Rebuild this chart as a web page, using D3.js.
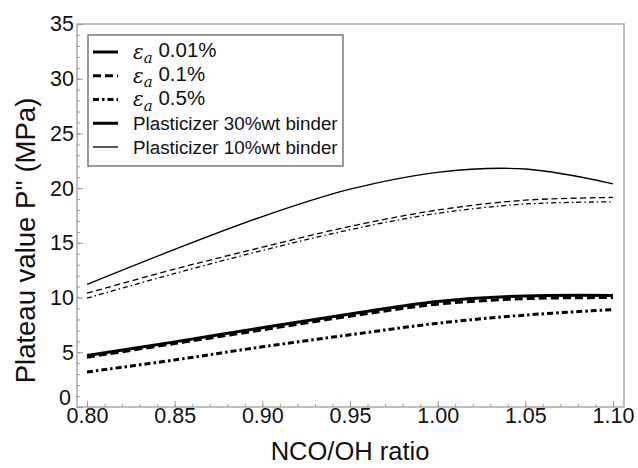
<!DOCTYPE html>
<html>
<head>
<meta charset="utf-8">
<script src="https://cdn.jsdelivr.net/npm/d3@7"></script>
<style>
  html, body { margin: 0; padding: 0; background: #fff; }
  svg { display: block; font-family: "Liberation Sans", Arial, Helvetica, sans-serif; }
</style>
</head>
<body>
<svg id="chart" width="638" height="468"></svg>
<script>
// NCO/OH ratio sampled every 0.05
const ratio = [0.80, 0.85, 0.90, 0.95, 1.00, 1.05, 1.10];

// Plateau value P'' (MPa), binder with 30%wt plasticizer
const p30_eps001 = [4.70, 5.95, 7.25, 8.50, 9.65, 10.15, 10.20];
const p30_eps01  = [4.55, 5.80, 7.05, 8.30, 9.40, 9.90, 10.00];
const p30_eps05  = [3.20, 4.30, 5.50, 6.60, 7.65, 8.40, 8.90];

// Plateau value P'' (MPa), binder with 10%wt plasticizer
const p10_eps001 = [11.2, 14.4, 17.4, 19.9, 21.45, 21.75, 20.4];
const p10_eps01  = [10.4, 12.6, 14.6, 16.5, 18.0, 18.9, 19.15];
const p10_eps05  = [9.95, 12.2, 14.3, 16.2, 17.7, 18.55, 18.75];

const xTicks = [0.80, 0.85, 0.90, 0.95, 1.00, 1.05, 1.10];
const yTicks = [0, 5, 10, 15, 20, 25, 30, 35];

const legendLabels = ["0.01%", "0.1%", "0.5%", "Plasticizer 30%wt binder", "Plasticizer 10%wt binder"];

const svg = d3.select("#chart");
const frame = { left: 77, right: 624, top: 24, bottom: 407 };

const x = d3.scaleLinear().domain([0.80, 1.10]).range([87, 613]);
const y = d3.scaleLinear().domain([0, 35]).range([frame.bottom, frame.top]);

const frameColor = "#ababab";
const tickColor = "#9a9a9a";
const fontStack = '"Liberation Sans", Arial, sans-serif';

// dash styles per strain amplitude, width per binder
const thick = 3.0, thin = 1.3;
const dashThick = { solid: null, dashed: "8,4", dashdot: "6,3,2.5,3" };
const dashThin  = { solid: null, dashed: "6,3.5", dashdot: "5,3,1.5,3" };

const series = [
  { values: p10_eps001, w: thin,  dash: dashThin.solid },
  { values: p10_eps01,  w: thin,  dash: dashThin.dashed },
  { values: p10_eps05,  w: thin,  dash: dashThin.dashdot },
  { values: p30_eps001, w: thick, dash: dashThick.solid },
  { values: p30_eps01,  w: thick, dash: dashThick.dashed },
  { values: p30_eps05,  w: thick, dash: dashThick.dashdot }
];

// frame
svg.append("rect")
  .attr("x", frame.left).attr("y", frame.top)
  .attr("width", frame.right - frame.left)
  .attr("height", frame.bottom - frame.top)
  .attr("fill", "none").attr("stroke", frameColor).attr("stroke-width", 1.5);

// bottom axis: minor ticks, then major ticks with labels
const xMinor = d3.range(0.80, 1.1001, 0.01);
svg.append("g").attr("transform", `translate(0,${frame.bottom})`)
  .call(d3.axisBottom(x).tickValues(xMinor).tickSize(-3).tickFormat(""))
  .call(g => g.select(".domain").remove())
  .call(g => g.selectAll("line").attr("stroke", tickColor));

svg.append("g").attr("transform", `translate(0,${frame.bottom})`)
  .call(d3.axisBottom(x).tickValues(xTicks).tickSize(-6).tickPadding(1).tickFormat(d3.format(".2f")))
  .call(g => g.select(".domain").remove())
  .call(g => g.selectAll("line").attr("stroke", tickColor))
  .call(g => g.selectAll("text").attr("fill", "#111").style("font-size", "21.5px")
    .style("font-family", fontStack));

// left axis
const yMinor = d3.range(0, 35.001, 1);
svg.append("g").attr("transform", `translate(${frame.left},0)`)
  .call(d3.axisLeft(y).tickValues(yMinor).tickSize(-3).tickFormat(""))
  .call(g => g.select(".domain").remove())
  .call(g => g.selectAll("line").attr("stroke", tickColor));

svg.append("g").attr("transform", `translate(${frame.left},0)`)
  .call(d3.axisLeft(y).tickValues(yTicks).tickSize(-6).tickPadding(3))
  .call(g => g.select(".domain").remove())
  .call(g => g.selectAll("line").attr("stroke", tickColor))
  .call(g => g.selectAll("text").attr("fill", "#111").style("font-size", "21.5px")
    .style("font-family", fontStack))
  .call(g => g.selectAll(".tick").filter(d => d === 0).select("text").attr("y", -9).attr("x", -6));

// curves
const line = d3.line()
  .x((d, i) => x(ratio[i]))
  .y(d => y(d))
  .curve(d3.curveCatmullRom.alpha(0.5));

svg.append("g").selectAll("path")
  .data(series)
  .join("path")
  .attr("d", s => line(s.values))
  .attr("fill", "none")
  .attr("stroke", "#000")
  .attr("stroke-width", s => s.w)
  .attr("stroke-dasharray", s => s.dash)
  .attr("stroke-linecap", "butt");

// legend
const lg = svg.append("g");
const lgBox = { x: 88, y: 35, w: 255, h: 131 };
lg.append("rect")
  .attr("x", lgBox.x).attr("y", lgBox.y).attr("width", lgBox.w).attr("height", lgBox.h)
  .attr("fill", "#fff").attr("stroke", "#666").attr("stroke-width", 1.3);

const legendItems = [
  { label: legendLabels[0], eps: true,  w: thick, dash: dashThick.solid },
  { label: legendLabels[1], eps: true,  w: thick, dash: dashThick.dashed },
  { label: legendLabels[2], eps: true,  w: thick, dash: dashThick.dashdot },
  { label: legendLabels[3], eps: false, w: thick, dash: null },
  { label: legendLabels[4], eps: false, w: thin,  dash: null }
];
const rowY = d3.scalePoint().domain(d3.range(legendItems.length)).range([52, 147]);

const rows = lg.selectAll("g.row").data(legendItems).join("g").attr("class", "row")
  .attr("transform", (d, i) => `translate(0,${rowY(i)})`);

rows.append("line")
  .attr("x1", 93).attr("x2", 118).attr("y1", 0).attr("y2", 0)
  .attr("stroke", "#000")
  .attr("stroke-width", d => d.w)
  .attr("stroke-dasharray", d => d.dash);

rows.append("text")
  .attr("x", 133).attr("y", 0).attr("dy", "0.36em")
  .style("font-size", "18.8px").attr("fill", "#111")
  .each(function(d) {
    const t = d3.select(this);
    if (d.eps) {
      t.append("tspan").style("font-style", "italic").style("font-family", '"DejaVu Serif", serif')
        .style("font-size", "20px").text("ε");
      t.append("tspan").style("font-style", "italic").style("font-family", '"DejaVu Serif", serif')
        .style("font-size", "15px").attr("dy", "0.3em").text("a");
      t.append("tspan").attr("dy", "-0.3em").style("font-size", "20.5px").text("\u00a0" + d.label);
    } else {
      t.text(d.label);
    }
  });

// axis titles
svg.append("text")
  .attr("x", (x(0.80) + x(1.10)) / 2).attr("y", 460)
  .attr("text-anchor", "middle")
  .style("font-size", "25.5px").attr("fill", "#111")
  .text("NCO/OH ratio");

svg.append("text")
  .attr("transform", `translate(35,${(frame.top + frame.bottom) / 2 + 25}) rotate(-90)`)
  .attr("text-anchor", "middle")
  .style("font-size", "27.5px").attr("fill", "#111")
  .text("Plateau value P'' (MPa)");
</script>
</body>
</html>
